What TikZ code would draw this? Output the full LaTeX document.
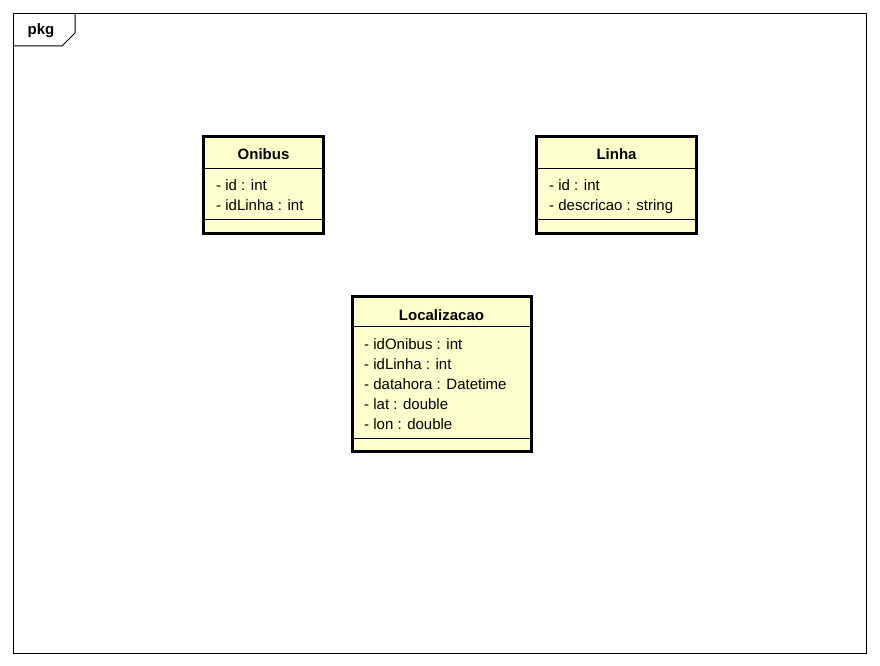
\documentclass[tikz,border=0pt]{standalone}
\usepackage{fontspec}
\setmainfont{Liberation Sans}
\usetikzlibrary{positioning}

\definecolor{classfill}{RGB}{255,255,206}

\begin{document}
\begin{tikzpicture}[x=1pt, y=-1pt,
    classbox/.style={draw, line width=3pt, fill=classfill, anchor=north west, inner sep=0pt, outer sep=0pt},
    classname/.style={font=\fontsize{15}{17}\selectfont\bfseries, anchor=base, inner sep=0pt},
    attr/.style={font=\fontsize{15}{17}\selectfont, anchor=base west, inner sep=0pt},
    sep/.style={line width=1pt}]
  \useasboundingbox (0,0) rectangle (880,666);

  % package frame
  \node (frame) [draw, line width=1pt, anchor=north west, minimum width=853pt, minimum height=640pt, inner sep=0pt, outer sep=0pt] at (13,13.5) {};
  \coordinate (tabtop) at (75,13.5);
  \coordinate (tabbend) at (75,33);
  \coordinate (tabfoot) at (62,46);
  \coordinate (tableft) at (13,46);
  \draw[line width=1pt] (tabtop) -- (tabbend) -- (tabfoot) -- (tableft);
  \node (pkg) [classname] at (41,35) {pkg};

  % Onibus
  \node (onibus) [classbox, minimum width=120pt, minimum height=97pt] at (203.5,136) {};
  \node (onibusname) [classname] at (263.5,159) {Onibus};
  \draw[sep] (onibus.west |- 0,168) -- (onibus.east |- 0,168);
  \node (onibusid) [attr] at (216,190) {- id : int};
  \node (onibuslinha) [attr] at (216,210) {- idLinha : int};
  \draw[sep] (onibus.west |- 0,219) -- (onibus.east |- 0,219);

  % Linha
  \node (linha) [classbox, minimum width=160pt, minimum height=97pt] at (536.5,136) {};
  \node (linhaname) [classname] at (616.5,159) {Linha};
  \draw[sep] (linha.west |- 0,168) -- (linha.east |- 0,168);
  \node (linhaid) [attr] at (549,190) {- id : int};
  \node (linhadesc) [attr] at (549,210) {- descricao : string};
  \draw[sep] (linha.west |- 0,219) -- (linha.east |- 0,219);

  % Localizacao
  \node (local) [classbox, minimum width=178.5pt, minimum height=155pt] at (352.5,296) {};
  \node (localname) [classname] at (441.5,320) {Localizacao};
  \draw[sep] (local.west |- 0,326) -- (local.east |- 0,326);
  \node (localonibus) [attr] at (364,349) {- idOnibus : int};
  \node (locallinha) [attr] at (364,369) {- idLinha : int};
  \node (localdata) [attr] at (364,389) {- datahora : Datetime};
  \node (locallat) [attr] at (364,409) {- lat : double};
  \node (locallon) [attr] at (364,429) {- lon : double};
  \draw[sep] (local.west |- 0,438) -- (local.east |- 0,438);
\end{tikzpicture}
\end{document}
